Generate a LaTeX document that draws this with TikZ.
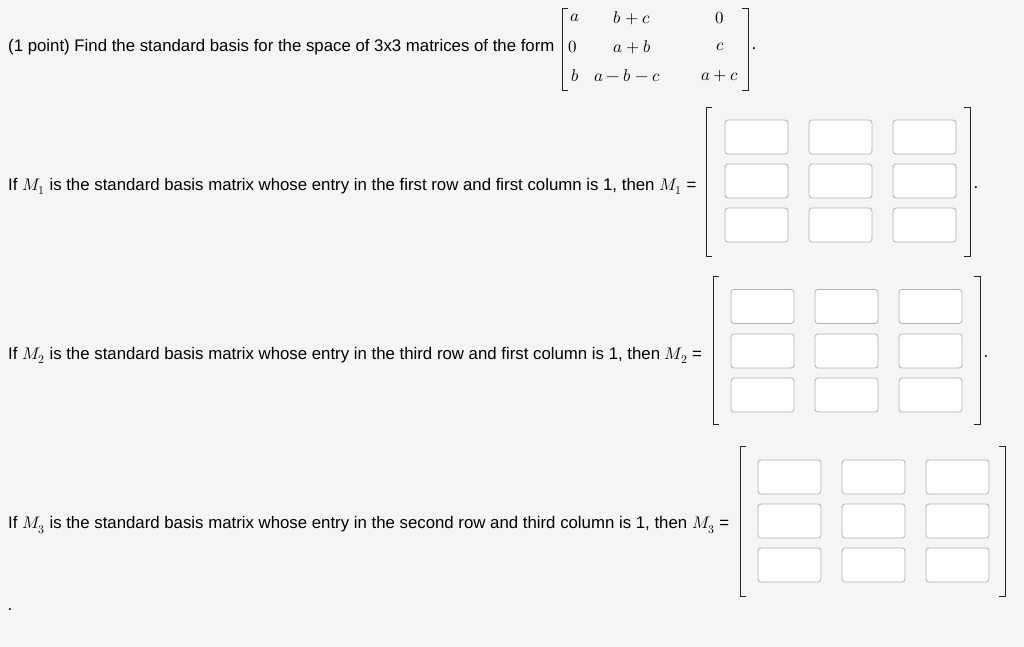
\documentclass[tikz,border=0pt]{standalone}
\usepackage{fontspec}
\setmainfont{Liberation Sans}
\usepackage{unicode-math}
\setmathfont{Latin Modern Math}
\begin{document}
\begin{tikzpicture}[x=1pt,y=-1pt,
  txt/.style={anchor=west,inner sep=0,font=\fontsize{16.8}{19}\selectfont},
  ent/.style={inner sep=0,font=\fontsize{17}{19}\selectfont},
  box/.style={draw=black!30,fill=white,rounded corners=3pt,line width=0.8pt,minimum width=63pt,minimum height=34pt,inner sep=0},
  br/.style={draw=black!85,line width=0.9pt}]
\fill[black!4] (0,0) rectangle (1024,647);
\useasboundingbox (0,0) rectangle (1024,647);
% top
\node[txt] (q) at (8,47) {(1 point) Find the standard basis for the space of 3x3 matrices of the form};
\draw[br] (568,8) -- (562,8) -- (562,90) -- (568,90);
\draw[br] (742,8) -- (748,8) -- (748,90) -- (742,90);
\node[ent] (a11) at (575,18) {$a$};
\node[ent] (a12) at (632,18) {$b+c$};
\node[ent] (a13) at (720,18) {$0$};
\node[ent] (a21) at (573,47) {$0$};
\node[ent] (a22) at (632,47) {$a+b$};
\node[ent] (a23) at (720,47) {$c$};
\node[ent] (a31) at (575,76) {$b$};
\node[ent] (a32) at (627,76) {$a-b-c$};
\node[ent] (a33) at (720,76) {$a+c$};
\node[ent] (d0) at (754,49) {.};
% M1
\node[txt] (t1) at (8,186) {If $M_1$ is the standard basis matrix whose entry in the first row and first column is 1, then $M_1$ =};
\draw[br] (712,107) -- (706,107) -- (706,256) -- (712,256);
\draw[br] (964,107) -- (970,107) -- (970,256) -- (964,256);
\foreach \c/\x in {1/756.5,2/840.5,3/924.5}\foreach \r/\y in {1/137,2/181,3/225}
  \node[box] (m1\r\c) at (\x,\y) {};
\node[ent] (d1) at (976,188) {.};
% M2
\node[txt] (t2) at (8,355) {If $M_2$ is the standard basis matrix whose entry in the third row and first column is 1, then $M_2$ =};
\draw[br] (719,276) -- (713,276) -- (713,424) -- (719,424);
\draw[br] (974,276) -- (980,276) -- (980,424) -- (974,424);
\foreach \c/\x in {1/762.5,2/846.5,3/930.5}\foreach \r/\y in {1/306.5,2/351,3/395}
  \node[box] (m2\r\c) at (\x,\y) {};
\node[ent] (d2) at (986,357) {.};
% M3
\node[txt] (t3) at (8,525) {If $M_3$ is the standard basis matrix whose entry in the second row and third column is 1, then $M_3$ =};
\draw[br] (746,446) -- (740,446) -- (740,596) -- (746,596);
\draw[br] (999,446) -- (1005,446) -- (1005,596) -- (999,596);
\foreach \c/\x in {1/789.5,2/873.5,3/957.5}\foreach \r/\y in {1/477,2/521,3/565}
  \node[box] (m3\r\c) at (\x,\y) {};
\node[ent] (d3) at (10,610) {.};
\end{tikzpicture}
\end{document}
